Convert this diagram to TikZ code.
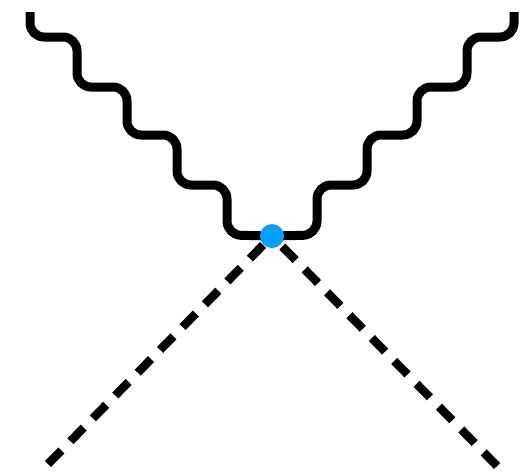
\documentclass[tikz,border=0pt]{standalone}
\definecolor{vtxblue}{RGB}{5,160,250}
\tikzset{
  photon/.style={line width=9pt, rounded corners=14pt, line cap=butt, line join=round},
  scalar/.style={line width=8.5pt, dash pattern=on 19pt off 13pt, line cap=butt},
  vertexdot/.style={circle, fill=vtxblue, minimum size=24pt, inner sep=0pt}
}
\begin{document}
\begin{tikzpicture}[x=1pt,y=-1pt]
\useasboundingbox (0,0) rectangle (521,472);
\coordinate (v) at (272,236);
\coordinate (tl) at (30,12);
\coordinate (tr) at (514,12);
\coordinate (bl) at (48,464);
\coordinate (br) at (497,466);
% scalar lines
\draw[scalar] (bl) -- (v);
\draw[scalar] (br) -- (v);
% photon lines
\draw[photon] (tl) -- ++(0,25) -- ++(47,0) -- ++(0,50) -- ++(50,0) -- ++(0,48) -- ++(50,0) -- ++(0,50) -- ++(50,0) -- ++(0,50) -- (v);
\draw[photon] (tr) -- ++(0,25) -- ++(-47,0) -- ++(0,50) -- ++(-50,0) -- ++(0,48) -- ++(-50,0) -- ++(0,50) -- ++(-50,0) -- ++(0,50) -- (v);
\node[vertexdot] (dot) at (v) {};
\end{tikzpicture}
\end{document}
